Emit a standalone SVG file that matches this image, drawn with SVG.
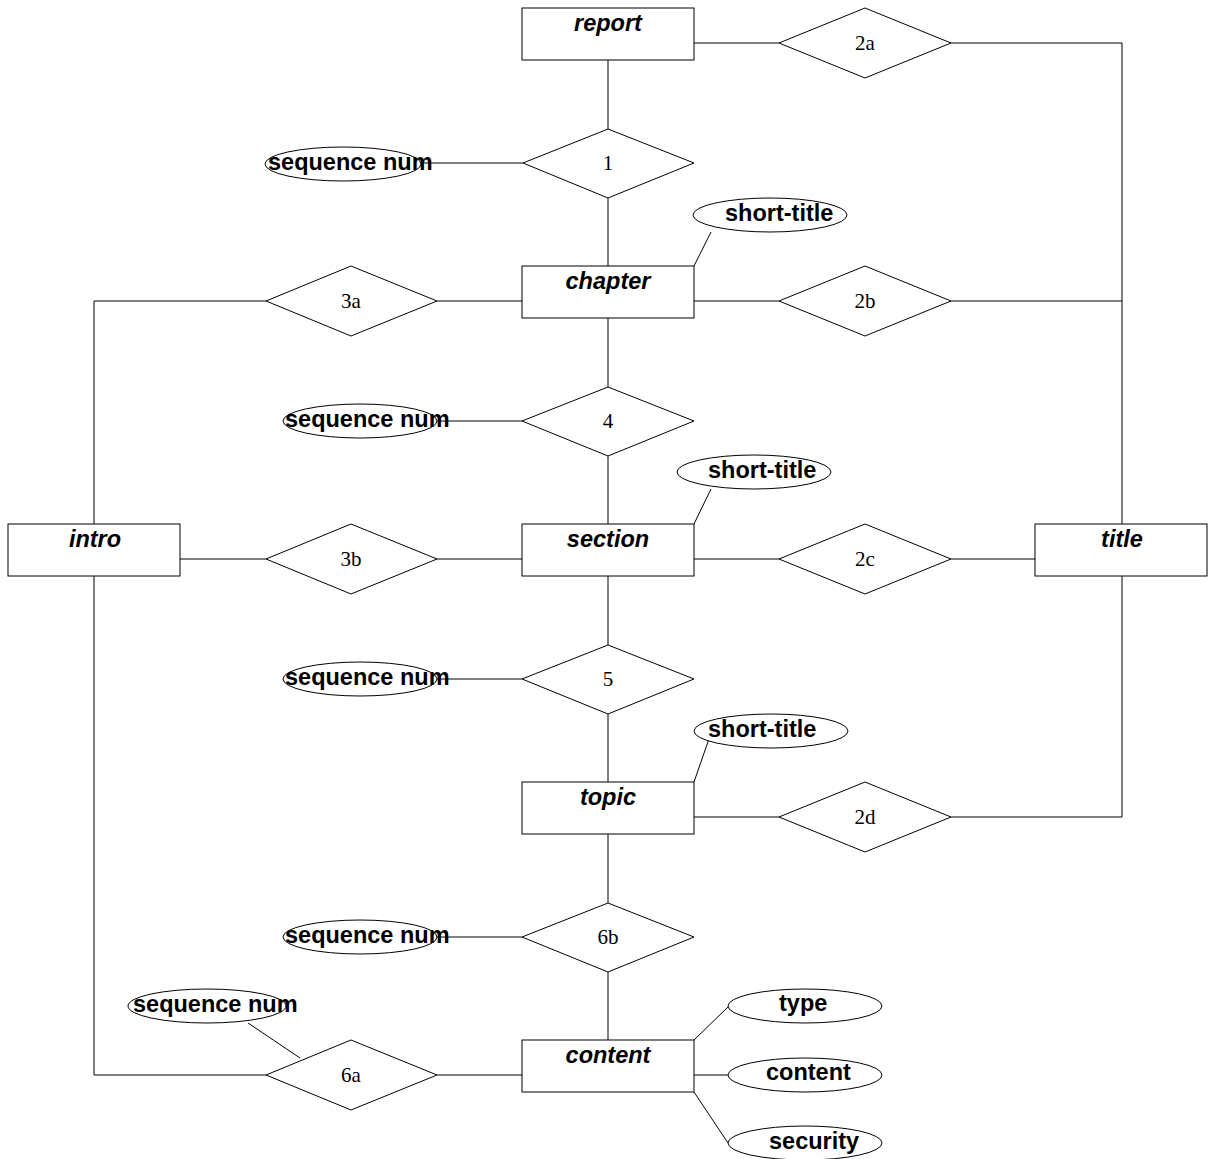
<svg xmlns="http://www.w3.org/2000/svg" width="1214" height="1159" viewBox="0 0 1214 1159">
<style>
.ent{fill:#fff;stroke:#000;stroke-width:1}
.rel{fill:#fff;stroke:#000;stroke-width:1}
.att{fill:#fff;stroke:#000;stroke-width:1}
.ln{fill:none;stroke:#000;stroke-width:1}
.et{font-family:"Liberation Sans",Arial,sans-serif;font-size:23.5px;font-weight:bold;font-style:italic;text-anchor:middle;fill:#000}
.at{font-family:"Liberation Sans",Arial,sans-serif;font-size:23.5px;font-weight:bold;fill:#000}
.rt{font-family:"Liberation Serif","Times New Roman",serif;font-size:21px;text-anchor:middle;fill:#000}
</style>
<rect width="1214" height="1159" fill="#fff"/>
<g id="connectors">
<path class="ln" d="M608 60V129M608 198V266M608 318V387M608 456V524M608 576V645M608 714V782M608 834V903M608 972V1040"/>
<path class="ln" d="M694 43H779M951 43H1122V524"/>
<path class="ln" d="M694 301H779M951 301H1122"/>
<path class="ln" d="M694 559H779M951 559H1035"/>
<path class="ln" d="M694 817H779M951 817H1122V576"/>
<path class="ln" d="M522 301H437M266 301H94V524"/>
<path class="ln" d="M522 559H437M266 559H180"/>
<path class="ln" d="M522 1075H437M266 1075H94V576"/>
<path class="ln" d="M421 163H523M437 421H522M437 679H522M437 937H522M248 1023L300 1058"/>
<path class="ln" d="M694 266L711 232M694 524L711 489M694 782L711 733"/>
<path class="ln" d="M694 1040L728 1007M694 1075H728M694 1092L728 1143"/>
</g>
<g id="report"><rect class="ent" x="522" y="8" width="172" height="52"/><text class="et" x="608" y="31">report</text></g>
<g id="chapter"><rect class="ent" x="522" y="266" width="172" height="52"/><text class="et" x="608" y="289">chapter</text></g>
<g id="section"><rect class="ent" x="522" y="524" width="172" height="52"/><text class="et" x="608" y="547">section</text></g>
<g id="topic"><rect class="ent" x="522" y="782" width="172" height="52"/><text class="et" x="608" y="805">topic</text></g>
<g id="content"><rect class="ent" x="522" y="1040" width="172" height="52"/><text class="et" x="608" y="1063">content</text></g>
<g id="intro"><rect class="ent" x="8" y="524" width="172" height="52"/><text class="et" x="95" y="547">intro</text></g>
<g id="title"><rect class="ent" x="1035" y="524" width="172" height="52"/><text class="et" x="1122" y="547">title</text></g>
<g id="rel-1"><polygon class="rel" points="523,163 608,129 694,163 608,198"/><text class="rt" x="608" y="170">1</text></g>
<g id="rel-4"><polygon class="rel" points="522,421 608,387 694,421 608,456"/><text class="rt" x="608" y="428">4</text></g>
<g id="rel-5"><polygon class="rel" points="522,679 608,645 694,679 608,714"/><text class="rt" x="608" y="686">5</text></g>
<g id="rel-6b"><polygon class="rel" points="522,937 608,903 694,937 608,972"/><text class="rt" x="608" y="944">6b</text></g>
<g id="rel-2a"><polygon class="rel" points="779,43 865,8 951,43 865,78"/><text class="rt" x="865" y="50">2a</text></g>
<g id="rel-2b"><polygon class="rel" points="779,301 865,266 951,301 865,336"/><text class="rt" x="865" y="308">2b</text></g>
<g id="rel-2c"><polygon class="rel" points="779,559 865,524 951,559 865,594"/><text class="rt" x="865" y="566">2c</text></g>
<g id="rel-2d"><polygon class="rel" points="779,817 865,782 951,817 865,852"/><text class="rt" x="865" y="824">2d</text></g>
<g id="rel-3a"><polygon class="rel" points="266,301 351,266 437,301 351,336"/><text class="rt" x="351" y="308">3a</text></g>
<g id="rel-3b"><polygon class="rel" points="266,559 351,524 437,559 351,594"/><text class="rt" x="351" y="566">3b</text></g>
<g id="rel-6a"><polygon class="rel" points="266,1075 351,1040 437,1075 351,1110"/><text class="rt" x="351" y="1082">6a</text></g>
<g id="seq-1"><ellipse class="att" cx="343" cy="164" rx="78" ry="17"/><text class="at" x="268" y="170">sequence num</text></g>
<g id="seq-4"><ellipse class="att" cx="360" cy="421" rx="77" ry="17"/><text class="at" x="285" y="427">sequence num</text></g>
<g id="seq-5"><ellipse class="att" cx="360" cy="679" rx="77" ry="17"/><text class="at" x="285" y="685">sequence num</text></g>
<g id="seq-6b"><ellipse class="att" cx="360" cy="937" rx="77" ry="17"/><text class="at" x="285" y="943">sequence num</text></g>
<g id="seq-6a"><ellipse class="att" cx="207" cy="1006" rx="79" ry="17"/><text class="at" x="133" y="1012">sequence num</text></g>
<g id="st-chapter"><ellipse class="att" cx="770" cy="215" rx="77" ry="17"/><text class="at" x="725" y="221">short-title</text></g>
<g id="st-section"><ellipse class="att" cx="754" cy="472" rx="77" ry="17"/><text class="at" x="708" y="478">short-title</text></g>
<g id="st-topic"><ellipse class="att" cx="771" cy="731" rx="77" ry="17"/><text class="at" x="708" y="737">short-title</text></g>
<g id="att-type"><ellipse class="att" cx="805" cy="1006" rx="77" ry="17"/><text class="at" x="779" y="1011">type</text></g>
<g id="att-content"><ellipse class="att" cx="805" cy="1075" rx="77" ry="17"/><text class="at" x="766" y="1080">content</text></g>
<g id="att-security"><ellipse class="att" cx="805" cy="1143" rx="77" ry="17"/><text class="at" x="769" y="1149">security</text></g>
</svg>
